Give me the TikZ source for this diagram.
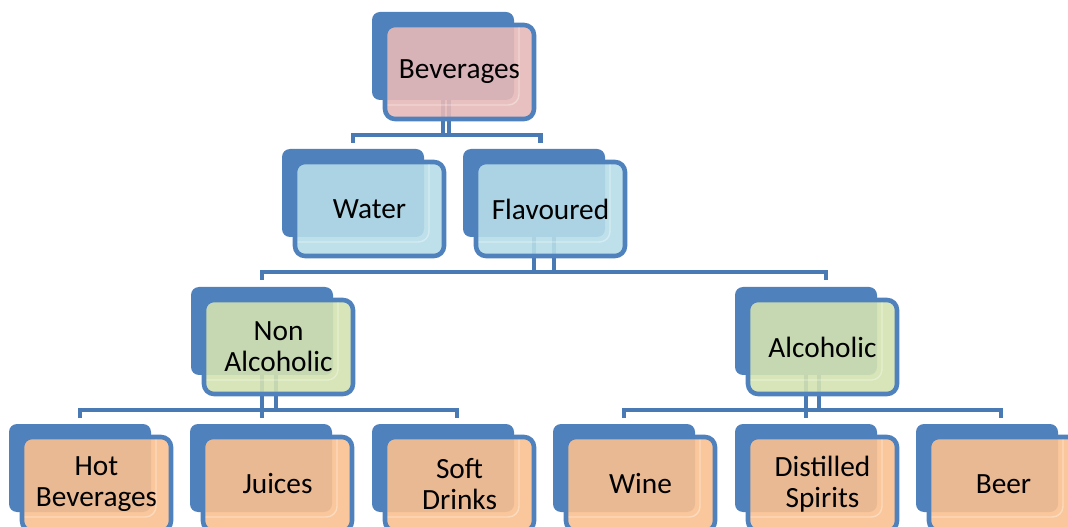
\documentclass[tikz,border=0pt]{standalone}
\usepackage{fontspec}
\setmainfont{Carlito}
\usetikzlibrary{calc}

\pgfdeclarelayer{shadow}
\pgfdeclarelayer{links}
\pgfsetlayers{shadow,links,main}

\definecolor{backblue}{HTML}{4F81BD}
\definecolor{edgeblue}{HTML}{4F81BD}
\definecolor{linkblue}{HTML}{4A7AB4}
\definecolor{rosefill}{HTML}{E6B9B8}
\definecolor{skyfill}{HTML}{B7DDE8}
\definecolor{leaffill}{HTML}{D3E2B0}
\definecolor{peachfill}{HTML}{FAC090}

\tikzset{
  backbox/.style={fill=backblue, draw=none, rounded corners=6pt,
    minimum width=106.5pt, minimum height=66pt, inner sep=0pt, outer sep=0pt},
  frontbox/.style={draw=edgeblue, line width=3.4pt, rounded corners=7.5pt,
    minimum width=111.75pt, minimum height=70.5pt, inner sep=0pt, outer sep=0pt,
    fill opacity=0.9, text opacity=1, align=center,
    font=\fontsize{22}{23.5}\selectfont},
  glint/.style={draw=white, draw opacity=0.35, line width=1.1pt},
  link/.style={draw=linkblue, line width=3.6pt},
}

% #1 name, #2/#3 top-left of the shadow tile, #4 fill colour, #5 label
\newcommand\tierbox[5]{%
  \begin{pgfonlayer}{shadow}
    \node[backbox, anchor=north west] (#1b) at (#2,#3) {};
  \end{pgfonlayer}
  \node[frontbox, fill=#4, anchor=north west] (#1) at ($(#2,#3)+(13,13)$) {#5};
  \begin{scope}
    \clip[rounded corners=6pt] ($(#2,#3)+(15.5,15.5)$) rectangle ++(144,89);
    \draw[glint, rounded corners=8pt] ($(#2,#3)+(-5,-5)$) rectangle ++(152,98);
  \end{scope}
}

\begin{document}
\begin{tikzpicture}[x=0.75pt, y=-0.75pt]
  \useasboundingbox (0,0) rectangle (1068,527);

  % level 0
  \tierbox{bev}{372}{12}{rosefill}{Beverages}
  % level 1
  \tierbox{wat}{282}{149}{skyfill}{Water}
  \tierbox{fla}{463}{149}{skyfill}{Flavoured}
  % level 2
  \tierbox{nal}{191}{287}{leaffill}{Non\\Alcoholic}
  \tierbox{alc}{735}{287}{leaffill}{Alcoholic}
  % level 3
  \tierbox{hot}{9}{424}{peachfill}{Hot\\Beverages}
  \tierbox{juc}{190}{424}{peachfill}{Juices}
  \tierbox{sof}{372}{424}{peachfill}{Soft\\Drinks}
  \tierbox{win}{553}{424}{peachfill}{Wine}
  \tierbox{dis}{735}{424}{peachfill}{Distilled\\Spirits}
  \tierbox{bee}{916}{424}{peachfill}{Beer}

  % connectors, kept under the translucent front tiles
  \begin{pgfonlayer}{links}
    % Beverages -> Water, Flavoured
    \draw[link] (bevb.south) -- ++(0,35);
    \draw[link] ($(bevb.south)+(6,0)$) -- ++(0,35);
    \draw[link] ($(watb.north)+(0,-6)$) |- ($(flab.north)+(6.5,-14)$) -- ++(0,8);
    % Flavoured -> Non Alcoholic, Alcoholic
    \draw[link] (flab.south) -- ++(0,34);
    \draw[link] ($(flab.south)+(20,0)$) -- ++(0,34);
    \draw[link] ($(nalb.north)+(0,-7)$) |- ($(alcb.north)+(20,-15)$) -- ++(0,8);
    % Non Alcoholic -> Hot Beverages, Juices, Soft Drinks
    \draw[link] (nalb.south) -- ($(nalb.south |- jucb.north)+(0,-6)$);
    \draw[link] ($(nalb.south)+(14,0)$) -- ++(0,35);
    \draw[link] ($(hotb.north)+(0,-6)$) |- ($(sofb.north)+(14,-14)$) -- ++(0,8);
    % Alcoholic -> Wine, Distilled Spirits, Beer
    \draw[link] (alcb.south) -- ($(alcb.south |- disb.north)+(0,-6)$);
    \draw[link] ($(alcb.south)+(13,0)$) -- ++(0,35);
    \draw[link] ($(winb.north)+(0,-6)$) |- ($(beeb.north)+(14,-14)$) -- ++(0,8);
  \end{pgfonlayer}
\end{tikzpicture}
\end{document}
